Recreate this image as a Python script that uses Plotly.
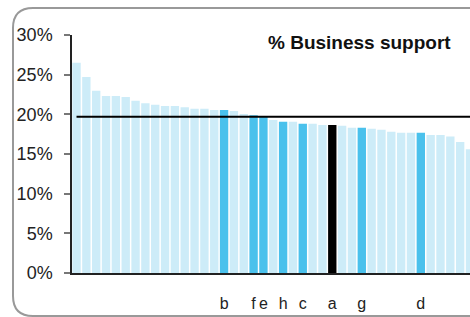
import plotly.graph_objects as go

values = [26.5, 24.7, 22.96, 22.3, 22.3, 22.2, 21.7, 21.4, 21.2, 21.06, 21.06, 20.9, 20.7, 20.7,
          20.56, 20.56, 20.43, 20.05, 19.9, 19.75, 19.3, 19.05, 19.05, 18.8, 18.8, 18.67, 18.67,
          18.55, 18.3, 18.3, 18.17, 18.05, 17.8, 17.67, 17.67, 17.67, 17.4, 17.4, 17.2, 16.5, 15.6]
highlight_idx = [15, 18, 19, 21, 23, 26, 29, 35]
highlight_lbl = ["b", "f", "e", "h", "c", "a", "g", "d"]
black_lbl = "a"
reference = 19.7
y_ticks = [0, 5, 10, 15, 20, 25, 30]
title_text = "% Business support"

LIGHT = "rgb(205,236,248)"
DARK = "rgb(74,193,236)"

x = list(range(len(values)))
colors = []
for i in x:
    if i in highlight_idx:
        lbl = highlight_lbl[highlight_idx.index(i)]
        colors.append("black" if lbl == black_lbl else DARK)
    else:
        colors.append(LIGHT)

fig = go.Figure(go.Bar(x=x, y=[v / 100 for v in values], marker=dict(color=colors, line=dict(width=0)),
                       hoverinfo="skip"))

W, H = 470, 317
L, R, T, B = 72, 0, 35, 44
pw, ph = W - L - R, H - T - B

def px(xp):
    return (xp - L) / pw

def py(yp):
    return (H - B - yp) / ph

left, top, bottom, right = px(13), py(8), py(316), px(480)
rx, ry = 20 / pw, 20 / ph
frame = (f"M {right},{top} L {left + rx},{top} Q {left},{top} {left},{top - ry} "
         f"L {left},{bottom + ry} Q {left},{bottom} {left + rx},{bottom} L {right},{bottom}")

fig.update_layout(
    width=W, height=H,
    margin=dict(l=L, r=R, t=T, b=B),
    paper_bgcolor="white", plot_bgcolor="white",
    bargap=0.15,
    showlegend=False,
    font=dict(family="Liberation Sans, Arial, sans-serif", size=16, color="#222"),
    xaxis=dict(range=[-0.46, 40.0], tickvals=highlight_idx, ticktext=highlight_lbl,
               showline=True, linecolor="#222", linewidth=2, ticks="", showgrid=False,
               zeroline=False, ticklabelstandoff=15, tickfont=dict(size=16, color="#222")),
    yaxis=dict(range=[0, 0.30], tickvals=[t / 100 for t in y_ticks],
               ticktext=[f"{t}%" for t in y_ticks], showline=True, linecolor="#222",
               linewidth=1.5, ticks="outside", ticklen=6, tickcolor="#777", tickwidth=1.5,
               showgrid=False, zeroline=False, ticklabelstandoff=8,
               tickfont=dict(size=18, color="#222")),
    shapes=[
        dict(type="line", xref="x", yref="y", x0=0, x1=41, y0=reference / 100, y1=reference / 100,
             line=dict(color="black", width=2)),
        dict(type="path", xref="paper", yref="paper", path=frame,
             line=dict(color="#999", width=2), layer="above"),
    ],
    annotations=[
        dict(text=f"<b>{title_text}</b>", xref="paper", yref="paper", x=px(453), y=py(42),
             xanchor="right", yanchor="middle", showarrow=False,
             font=dict(size=19, color="#111")),
    ],
)

fig.write_html("out.html", config={"displayModeBar": False},
               post_script="document.body.style.margin='0';document.body.style.overflow='hidden';")
